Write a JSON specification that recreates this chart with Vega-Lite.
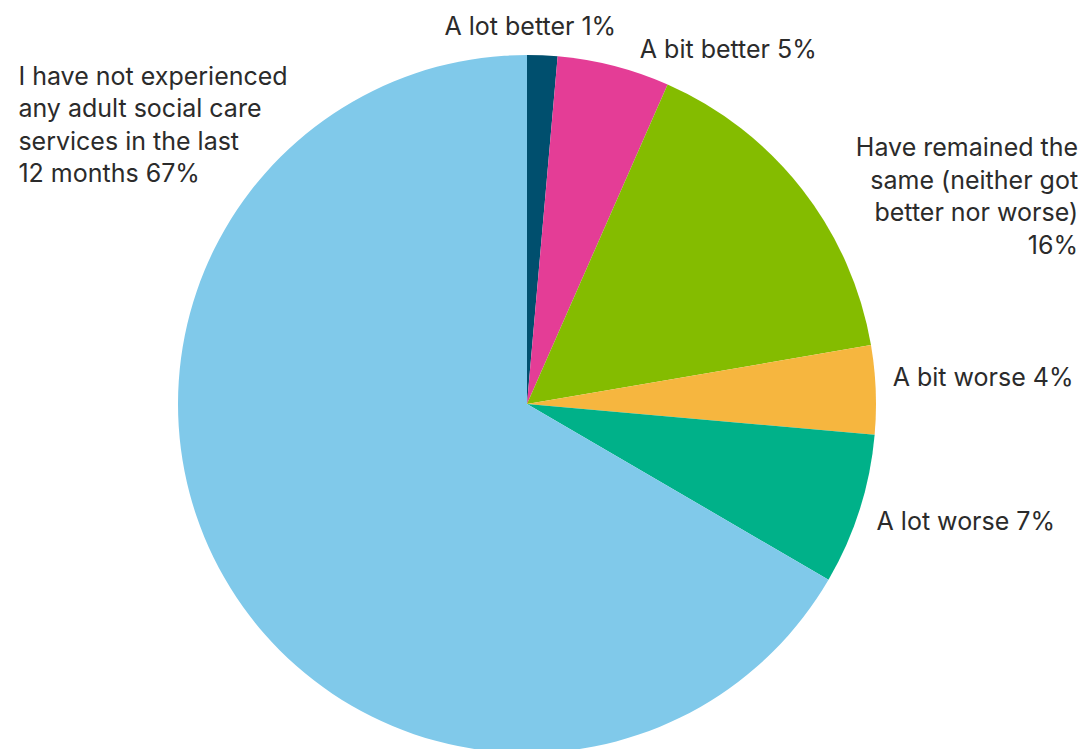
{
  "$schema": "https://vega.github.io/schema/vega-lite/v6.json",
  "autosize": {"type": "none"},
  "width": 1054,
  "height": 690,
  "padding": {"left": 0, "top": 59, "right": 34, "bottom": 0},
  "background": "white",
  "config": {"view": {"stroke": null}, "text": {"font": "Inter", "fontSize": 25, "color": "#2b2b2b", "lineBreak": "\n", "lineHeight": 32.5}},
  "data": {"values": [
    {"idx": 1, "category": "A lot better", "pct": 1.4, "label": "A lot better 1%"},
    {"idx": 2, "category": "A bit better", "pct": 5.2, "label": "A bit better 5%"},
    {"idx": 3, "category": "Have remained the same", "pct": 15.7, "label": "Have remained the\nsame (neither got\nbetter nor worse)\n16%"},
    {"idx": 4, "category": "A bit worse", "pct": 4.1, "label": "A bit worse 4%"},
    {"idx": 5, "category": "A lot worse", "pct": 7.0, "label": "A lot worse 7%"},
    {"idx": 6, "category": "Not experienced", "pct": 66.6, "label": "I have not experienced\nany adult social care\nservices in the last\n\u200812 months 67%"}
  ]},
  "encoding": {
    "theta": {"field": "pct", "type": "quantitative", "stack": true},
    "order": {"field": "idx", "type": "quantitative"},
    "detail": {"field": "category", "type": "nominal"}
  },
  "layer": [
    {
      "mark": {"type": "arc", "radius": 349},
      "encoding": {
        "color": {"field": "category", "type": "nominal", "legend": null,
          "scale": {"domain": ["A lot better", "A bit better", "Have remained the same", "A bit worse", "A lot worse", "Not experienced"],
                    "range": ["#004f6e", "#e43d96", "#84bc00", "#f6b63f", "#00b189", "#80c9ea"]}}
      }
    },
    {
      "mark": {"type": "text", "radius": 349, "align": "center", "baseline": "middle", "dx": -12, "dy": -28},
      "encoding": {"text": {"condition": {"test": "datum.idx === 1", "field": "label"}, "value": ""}}
    },
    {
      "mark": {"type": "text", "radius": 349, "align": "left", "baseline": "middle", "dx": 26, "dy": -16},
      "encoding": {"text": {"condition": {"test": "datum.idx === 2", "field": "label"}, "value": ""}}
    },
    {
      "mark": {"type": "text", "radius": 349, "align": "right", "baseline": "middle", "dx": 276, "dy": -41},
      "encoding": {"text": {"condition": {"test": "datum.idx === 3", "field": "label"}, "value": ""}}
    },
    {
      "mark": {"type": "text", "radius": 349, "align": "left", "baseline": "middle", "dx": 17, "dy": -12},
      "encoding": {"text": {"condition": {"test": "datum.idx === 4", "field": "label"}, "value": ""}}
    },
    {
      "mark": {"type": "text", "radius": 349, "align": "left", "baseline": "middle", "dx": 17, "dy": 12},
      "encoding": {"text": {"condition": {"test": "datum.idx === 5", "field": "label"}, "value": ""}}
    },
    {
      "mark": {"type": "text", "radius": 349, "align": "left", "baseline": "middle", "dx": -206, "dy": -501},
      "encoding": {"text": {"condition": {"test": "datum.idx === 6", "field": "label"}, "value": ""}}
    }
  ]
}
